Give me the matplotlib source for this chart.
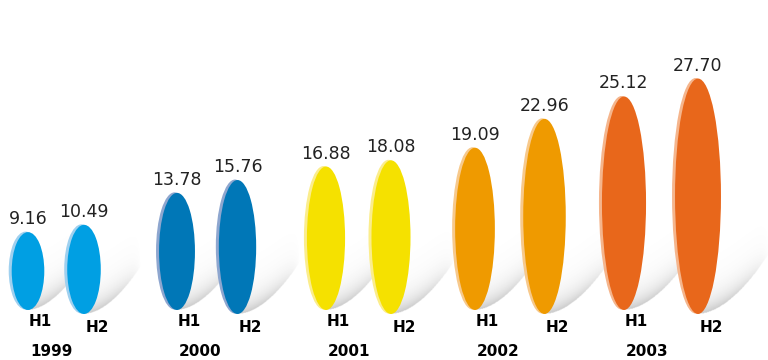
import numpy as np
import matplotlib.pyplot as plt
from matplotlib.patches import Ellipse

years = ['1999', '2000', '2001', '2002', '2003']
h1 = [9.16, 13.78, 16.88, 19.09, 25.12]
h2 = [10.49, 15.76, 18.08, 22.96, 27.70]
colors = ['#009fe3', '#0077b7', '#f5e100', '#ef9a00', '#e8671b']
rims = ['#9fd0ef', '#8ea6cf', '#fbed8c', '#f7c98c', '#f5b58c']

PX = 8.5  # pixels per value unit

fig = plt.figure(figsize=(7.68, 3.6), dpi=100)
ax = fig.add_axes([0, 0, 1, 1])


def shadow(cx, y0, w):
    # soft grey sweep from the ellipse foot towards the upper right
    L = 1.2 * w + 15
    rise = 0.85 * L
    thick = 40
    xs = np.linspace(0, L, 150)
    ys = np.linspace(0, rise + thick, 150)
    X, Y = np.meshgrid(xs, ys)
    lower = rise * (X / L) ** 1.8
    d = Y - lower
    a = np.where(d >= 0, np.exp(-d / 12.0), 0.0)
    a *= 1 - (X / L) ** 2.5
    img = np.zeros(X.shape + (4,))
    img[..., :3] = 0.45
    img[..., 3] = np.clip(a, 0, 1) * 0.38
    ax.imshow(img, origin='lower', aspect='auto', interpolation='bilinear',
              extent=(cx, cx + L, y0, y0 + (rise + thick) / PX), zorder=1)


def oval(cx, y0, v, c, rim):
    w = 27 + 0.72 * v
    shadow(cx, y0, w)
    ax.add_patch(Ellipse((cx - 2.5, y0 + v / 2 + 0.5 / PX), w, v, color=rim, lw=0, zorder=2))
    ax.add_patch(Ellipse((cx, y0 + v / 2), w - 1, v, color=c, lw=0, zorder=3))
    ax.text(cx, y0 + v + 4 / PX, f'{v:.2f}', ha='center', va='bottom',
            fontsize=12.5, color='#222222', zorder=4)


for i, yr in enumerate(years):
    x1 = 28 + 149 * i
    x2 = x1 + 56 + 4.5 * i
    oval(x1, 0, h1[i], colors[i], rims[i])
    oval(x2, -4 / PX, h2[i], colors[i], rims[i])
    ax.text(x1 + 12, -12 / PX, 'H1', ha='center', va='center',
            fontsize=11, fontweight='heavy', color='black', zorder=5)
    ax.text(x2 + 13, -17 / PX, 'H2', ha='center', va='center',
            fontsize=11, fontweight='heavy', color='black', zorder=5)
    ax.text(x1 + 23, -41 / PX, yr, ha='center', va='center',
            fontsize=11, fontweight='heavy', color='black', zorder=5)

ax.set_xlim(0, 768)
ax.set_ylim(-50 / PX, 310 / PX)
ax.axis('off')

fig.savefig('out.png', dpi=100)
